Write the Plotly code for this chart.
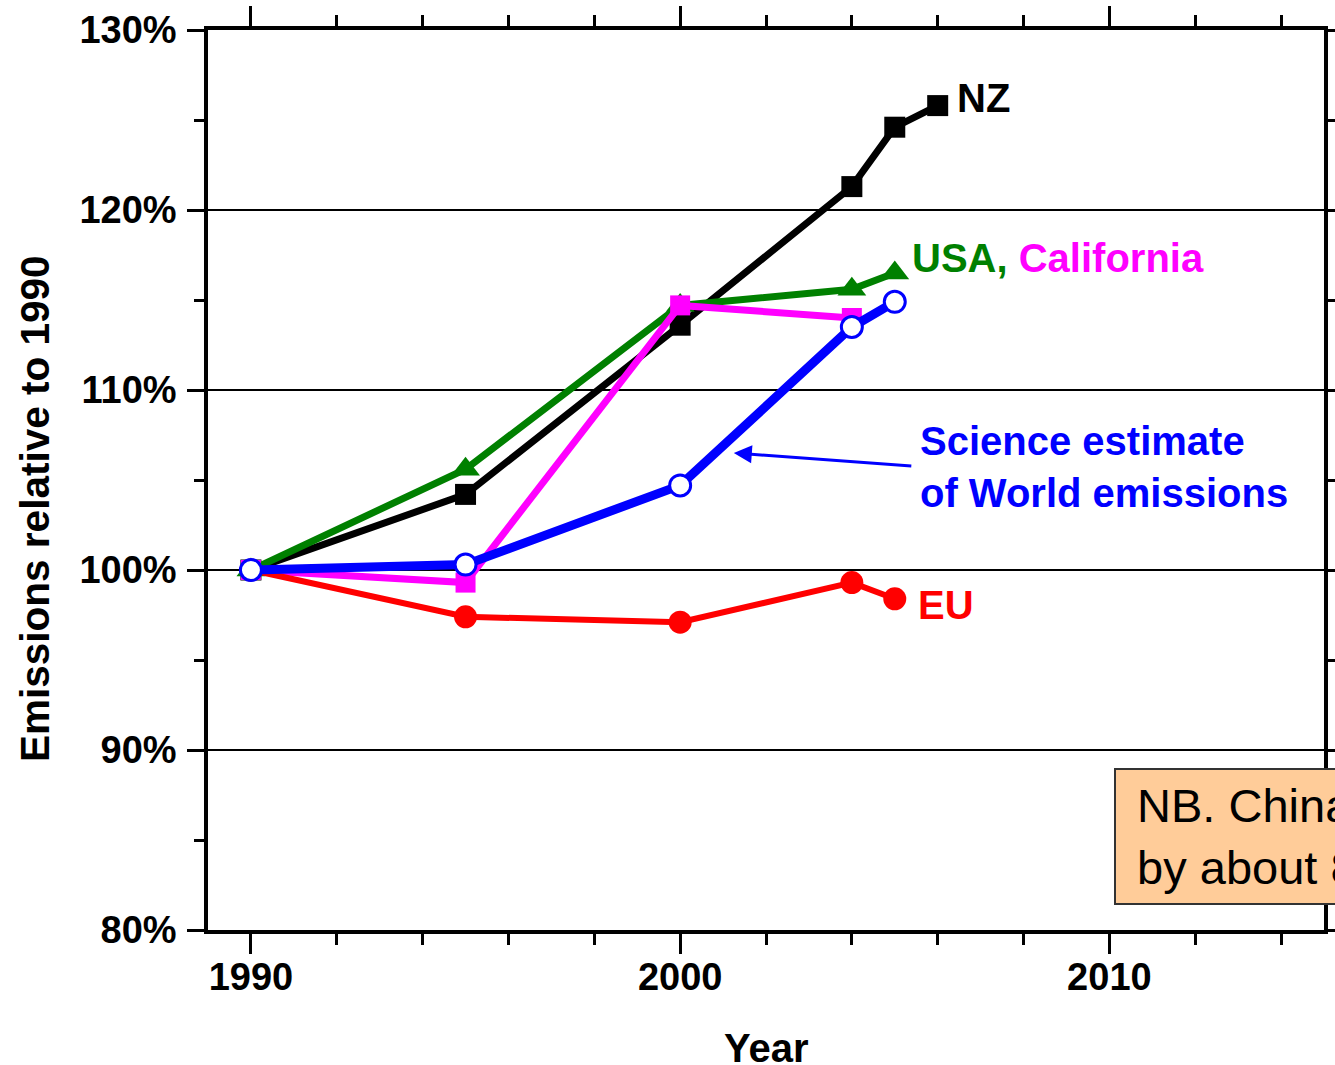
import plotly.graph_objects as go

# ---- data ----
years_nz = [1990, 1995, 2000, 2004, 2005, 2006]
nz = [100, 104.2, 113.6, 121.3, 124.6, 125.8]

years_usa = [1990, 1995, 2000, 2004, 2005]
usa = [100, 105.6, 114.7, 115.6, 116.5]

years_ca = [1990, 1995, 2000, 2004]
california = [100, 99.3, 114.7, 114.0]

years_world = [1990, 1995, 2000, 2004, 2005]
world = [100, 100.3, 104.7, 113.5, 114.9]

years_eu = [1990, 1995, 2000, 2004, 2005]
eu = [100, 97.4, 97.1, 99.3, 98.4]

y_ticks = [80, 90, 100, 110, 120, 130]
x_ticks = [1990, 2000, 2010]

FONT = "Liberation Sans"
GREEN = "#008000"
MAGENTA = "#FF00FF"
BLUE = "#0000FF"
RED = "#FF0000"

fig = go.Figure()

fig.add_trace(go.Scatter(x=years_nz, y=nz, mode="lines+markers", name="NZ",
                         line=dict(color="black", width=7),
                         marker=dict(symbol="square", size=21, color="black")))
fig.add_trace(go.Scatter(x=years_usa, y=usa, mode="lines+markers", name="USA",
                         line=dict(color=GREEN, width=7),
                         marker=dict(symbol="triangle-up", size=25, color=GREEN)))
fig.add_trace(go.Scatter(x=years_ca, y=california, mode="lines+markers", name="California",
                         line=dict(color=MAGENTA, width=7),
                         marker=dict(symbol="square", size=20, color=MAGENTA)))
fig.add_trace(go.Scatter(x=years_eu, y=eu, mode="lines+markers", name="EU",
                         line=dict(color=RED, width=6),
                         marker=dict(symbol="circle", size=23, color=RED)))
fig.add_trace(go.Scatter(x=years_world, y=world, mode="lines+markers", name="World",
                         line=dict(color=BLUE, width=9),
                         marker=dict(symbol="circle", size=21, color="white",
                                     line=dict(color=BLUE, width=3))))

lab_font = dict(family=FONT, size=40, weight="bold")

annotations = [
    dict(x=2006.4, y=126.2, text="NZ", showarrow=False, xanchor="left", yanchor="middle",
         font=dict(lab_font, color="black")),
    dict(x=2005.35, y=117.35,
         text="<span style='color:%s'>USA,</span> <span style='color:%s'>California</span>" % (GREEN, MAGENTA),
         showarrow=False, xanchor="left", yanchor="middle", font=dict(lab_font, color=GREEN)),
    dict(x=2005.55, y=105.7, text="Science estimate<br>of World emissions", showarrow=False,
         xanchor="left", yanchor="middle", align="left", font=dict(lab_font, color=BLUE)),
    dict(x=2005.5, y=98.05, text="EU", showarrow=False, xanchor="left", yanchor="middle",
         font=dict(lab_font, color=RED)),
    # arrow pointing at the World line
    dict(x=2001.25, y=106.5, ax=179, ay=13, axref="pixel", ayref="pixel", text="",
         showarrow=True, arrowhead=2, arrowsize=1.2, arrowwidth=3, arrowcolor=BLUE),
    # NB box (cut off at the right edge in the reference)
    dict(x=2010.1, y=85.2, xref="x", yref="y", xanchor="left", yanchor="middle",
         text="&nbsp;NB. China's emissions rose<br>&nbsp;by about 80% since 1990", showarrow=False,
         align="left", bgcolor="#FFCC99", bordercolor="#333333", borderwidth=2, borderpad=8,
         height=117, font=dict(family=FONT, size=47, color="black")),
    # axis titles placed as in the reference
    dict(x=0, y=0.4678, xref="paper", yref="paper", xanchor="center", yanchor="middle",
         xshift=-173, textangle=-90, showarrow=False, text="Emissions relative to 1990",
         font=dict(family=FONT, size=40.5, color="black", weight="bold")),
    dict(x=0.5, y=0, xref="paper", yref="paper", xanchor="center", yanchor="middle",
         yshift=-118, showarrow=False, text="Year",
         font=dict(family=FONT, size=40, color="black", weight="bold")),
]

axis_common = dict(
    showline=True, linecolor="black", linewidth=3.5, mirror="ticks",
    ticks="outside", tickcolor="black", tickwidth=3,
    tickfont=dict(family=FONT, size=38, color="black", weight="bold"),
    zeroline=False,
)

fig.update_xaxes(
    **axis_common,
    range=[1989, 2015], tickmode="array", tickvals=x_ticks, ticktext=[str(v) for v in x_ticks],
    ticklen=20, showgrid=False, ticklabelstandoff=-9,
    minor=dict(tick0=1990, dtick=2, ticks="outside", ticklen=11, tickwidth=3, tickcolor="black", showgrid=False),
)
fig.update_yaxes(
    **axis_common,
    range=[80, 130], tickmode="array", tickvals=y_ticks, ticktext=["%d%%" % v for v in y_ticks],
    ticklen=17, showgrid=True, gridcolor="black", gridwidth=2, ticklabelstandoff=3,
    minor=dict(tick0=80, dtick=5, ticks="outside", ticklen=10, tickwidth=3, tickcolor="black", showgrid=False),
)

fig.update_layout(
    width=1335, height=1065,
    margin=dict(l=208, r=11, t=30, b=135, autoexpand=False),
    plot_bgcolor="white", paper_bgcolor="white",
    showlegend=False,
    annotations=annotations,
)

fig.write_html("out.html", config={"displayModeBar": False},
               post_script="document.body.style.margin='0';document.body.style.overflow='hidden';")
